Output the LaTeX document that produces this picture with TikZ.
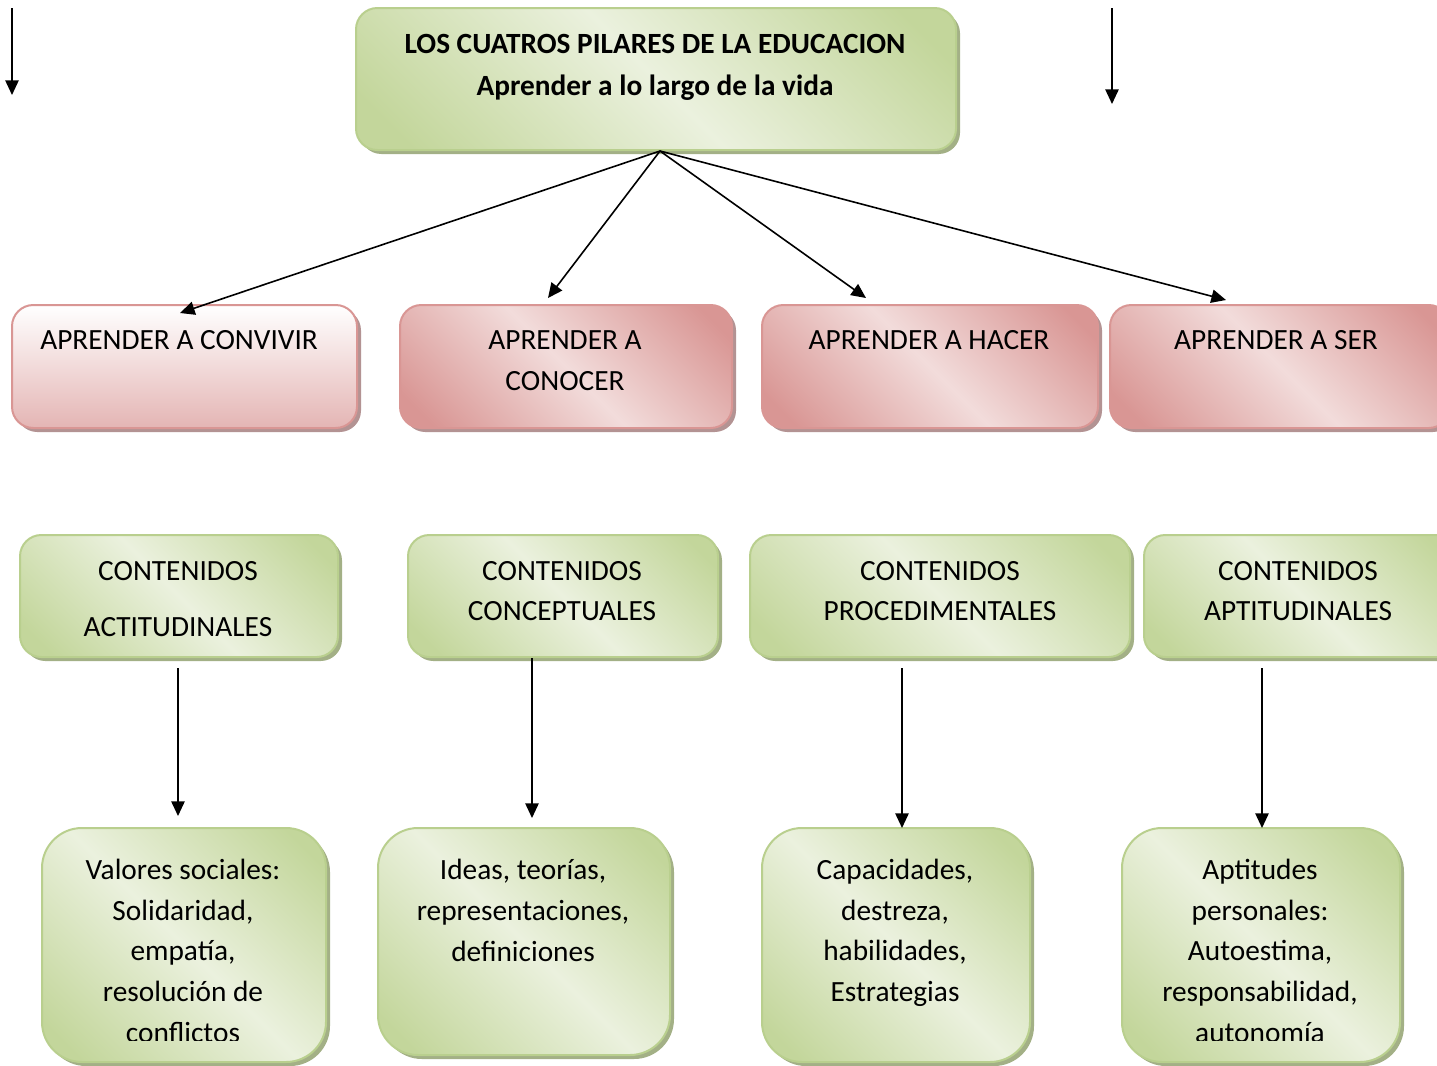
\documentclass[tikz,border=0pt]{standalone}
\usepackage{fontspec}
\setmainfont{Carlito}
\usetikzlibrary{arrows.meta,shadows}
\definecolor{gD}{HTML}{C3D69B}
\definecolor{gL}{HTML}{EBF1DE}
\definecolor{gB}{HTML}{B9CF8E}
\definecolor{gS}{HTML}{A3B086}
\definecolor{pD}{HTML}{D99694}
\definecolor{pL}{HTML}{F2DCDB}
\definecolor{pM}{HTML}{E4B5B4}
\definecolor{pB}{HTML}{D99694}
\definecolor{pS}{HTML}{B39393}
\pgfdeclarehorizontalshading{gmirror}{100bp}{color(0bp)=(gD); color(20bp)=(gD); color(50bp)=(gL); color(80bp)=(gD); color(100bp)=(gD)}
\pgfdeclarehorizontalshading{pmirror}{100bp}{color(0bp)=(pD); color(20bp)=(pD); color(50bp)=(pL); color(80bp)=(pD); color(100bp)=(pD)}
\tikzset{
  boxbase/.style={rectangle, inner sep=0pt, line width=1.5pt},
  gbox/.style={boxbase, draw=gB, shading=gmirror, shading angle=45, rounded corners=16pt,
    drop shadow={shadow xshift=3pt, shadow yshift=-3pt, fill=gS, opacity=1}},
  gboxbig/.style={gbox, rounded corners=30pt},
  pbox/.style={boxbase, draw=pB, shading=pmirror, shading angle=45, rounded corners=16pt,
    drop shadow={shadow xshift=3pt, shadow yshift=-3pt, fill=pS, opacity=1}},
  pboxv/.style={boxbase, draw=pB, top color=white, bottom color=pM, rounded corners=16pt,
    drop shadow={shadow xshift=3pt, shadow yshift=-3pt, fill=pS, opacity=1}},
  txt/.style={font=\fontsize{22}{30.4}\selectfont, align=center, inner sep=0pt, anchor=base},
  arr/.style={line width=1.2pt, -{Triangle[length=11pt,width=10pt]}}
}
\begin{document}
\begin{tikzpicture}[x=0.75pt,y=-0.75pt]
\useasboundingbox (0,0) rectangle (1437,1065);
\clip (0,0) rectangle (1437,1065);
% boxes
\node[gbox, minimum width=450pt, minimum height=106.5pt] (top) at (656,79) {};
\node[pboxv, minimum width=258.75pt, minimum height=92.25pt] (p1) at (184.5,366.5) {};
\node[pbox, minimum width=249pt, minimum height=92.25pt] (p2) at (566,366.5) {};
\node[pbox, minimum width=252pt, minimum height=92.25pt] (p3) at (930,366.5) {};
\node[pbox, minimum width=255pt, minimum height=92.25pt] (p4) at (1280,366.5) {};
\node[gbox, minimum width=238.5pt, minimum height=91.5pt] (g1) at (179,596) {};
\node[gbox, minimum width=232.5pt, minimum height=91.5pt] (g2) at (563,596) {};
\node[gbox, minimum width=285pt, minimum height=91.5pt] (g3) at (940,596) {};
\node[gbox, minimum width=237pt, minimum height=91.5pt] (g4) at (1302,596) {};
\node[gboxbig, minimum width=213pt, minimum height=175.5pt] (b1) at (184,945) {};
\node[gboxbig, minimum width=219pt, minimum height=170.25pt] (b2) at (524,941.5) {};
\node[gboxbig, minimum width=201pt, minimum height=175.5pt] (b3) at (896,945) {};
\node[gboxbig, minimum width=208.5pt, minimum height=175.5pt] (b4) at (1261,945) {};
% texts (anchor base = baseline of last line)
\node[txt, font=\fontsize{22}{31.5}\selectfont\bfseries] (t0) at (655,95) {LOS CUATROS PILARES DE LA EDUCACION\\Aprender a lo largo de la vida};
\node[txt, anchor=base west] (tp1) at (40,349) {APRENDER A CONVIVIR};
\node[txt, font=\fontsize{22}{30.75}\selectfont] (tp2) at (565,390) {APRENDER A\\CONOCER};
\node[txt] (tp3) at (929,349) {APRENDER A HACER};
\node[txt] (tp4) at (1276,349) {APRENDER A SER};
\node[txt, font=\fontsize{22}{42}\selectfont] (tg1) at (178,636) {CONTENIDOS\\ACTITUDINALES};
\node[txt, font=\fontsize{22}{30}\selectfont] (tg2) at (562,620) {CONTENIDOS\\CONCEPTUALES};
\node[txt, font=\fontsize{22}{30}\selectfont] (tg3) at (940,620) {CONTENIDOS\\PROCEDIMENTALES};
\node[txt, font=\fontsize{22}{30}\selectfont] (tg4) at (1298,620) {CONTENIDOS\\APTITUDINALES};
\begin{scope}
\clip (0,0) rectangle (1437,1040);
\node[txt] (tb1) at (183,1042) {Valores sociales:\\Solidaridad,\\empatía,\\resolución de\\conflictos};
\node[txt] (tb2) at (523,961) {Ideas, teorías,\\representaciones,\\definiciones};
\node[txt] (tb3) at (895,1001.5) {Capacidades,\\destreza,\\habilidades,\\Estrategias};
\node[txt] (tb4) at (1260,1042) {Aptitudes\\personales:\\Autoestima,\\responsabilidad,\\autonomía};
\end{scope}
% connector coordinates
\coordinate (hub) at (660,151);
\coordinate (e1) at (180,313);
\coordinate (e2) at (548,298);
\coordinate (e3) at (866,298);
\coordinate (e4) at (1226,300);
\coordinate (v1s) at (178,668); \coordinate (v1e) at (178,816);
\coordinate (v2s) at (532,658); \coordinate (v2e) at (532,818);
\coordinate (v3s) at (902,668); \coordinate (v3e) at (902,828);
\coordinate (v4s) at (1262,668); \coordinate (v4e) at (1262,828);
\coordinate (a1s) at (12,8); \coordinate (a1e) at (12,95);
\coordinate (a2s) at (1112,8); \coordinate (a2e) at (1112,104);
% connectors
\draw[arr] (hub) -- (e1);
\draw[arr] (hub) -- (e2);
\draw[arr] (hub) -- (e3);
\draw[arr] (hub) -- (e4);
\draw[arr] (v1s) -- (v1e);
\draw[arr] (v2s) -- (v2e);
\draw[arr] (v3s) -- (v3e);
\draw[arr] (v4s) -- (v4e);
\draw[arr] (a1s) -- (a1e);
\draw[arr] (a2s) -- (a2e);
\end{tikzpicture}
\end{document}
